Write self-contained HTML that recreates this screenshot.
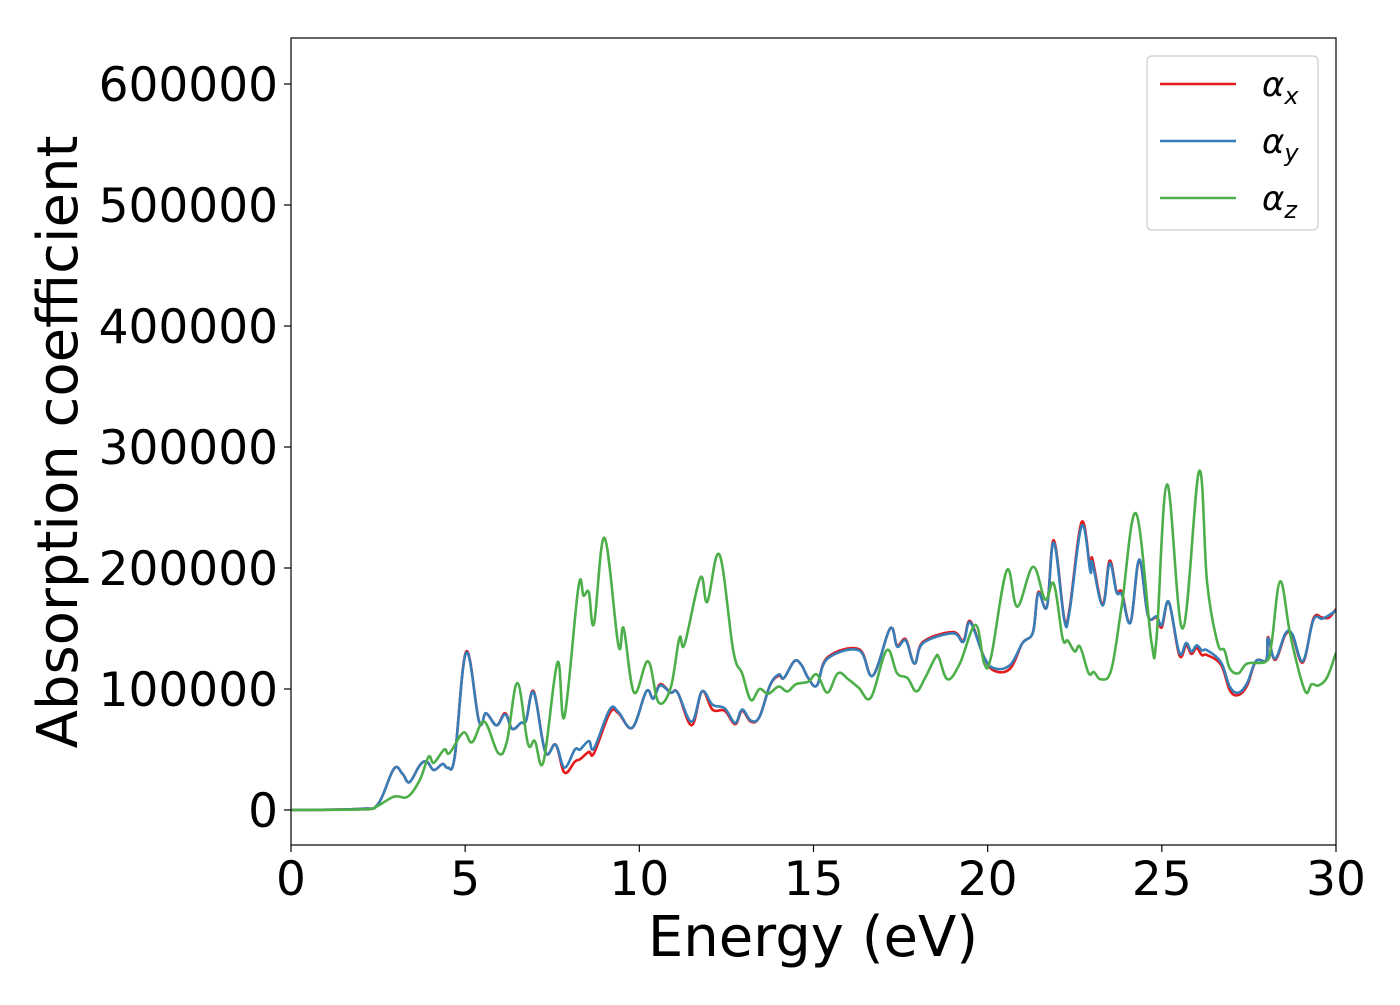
<!DOCTYPE html>
<html><head><meta charset="utf-8"><style>
html,body{margin:0;padding:0;background:#fff;}
svg text{font-family:"DejaVu Sans","Liberation Sans",sans-serif;fill:#000;}
</style></head><body>
<svg id="chart" width="1400" height="1000" viewBox="0 0 1400 1000" xmlns="http://www.w3.org/2000/svg">
<rect x="0" y="0" width="1400" height="1000" fill="#fff"/>
<g id="series"></g>
<rect x="291" y="38" width="1045" height="807" fill="none" stroke="#000" stroke-width="1.2"/>
<g id="xticks"></g>
<g id="yticks"></g>
<text x="813" y="956" font-size="56" text-anchor="middle">Energy (eV)</text>
<text transform="translate(77,442) rotate(-90)" font-size="56" text-anchor="middle">Absorption coefficient</text>
<g>
<rect x="1147" y="56" width="171" height="174" rx="5" fill="#fff" stroke="#ccc" stroke-width="1.2"/>
<line x1="1160" y1="84" x2="1236" y2="84" stroke="#e41a1c" stroke-width="2.5"/>
<text x="1262" y="96" font-size="34" font-style="italic">α<tspan font-size="24" dy="8">x</tspan></text>
<line x1="1160" y1="141" x2="1236" y2="141" stroke="#377eb8" stroke-width="2.5"/>
<text x="1262" y="153" font-size="34" font-style="italic">α<tspan font-size="24" dy="8">y</tspan></text>
<line x1="1160" y1="198" x2="1236" y2="198" stroke="#4daf4a" stroke-width="2.5"/>
<text x="1262" y="210" font-size="34" font-style="italic">α<tspan font-size="24" dy="8">z</tspan></text>
</g>
</svg>
<script>
const xTicks=[0,5,10,15,20,25,30];
const yTicks=[0,100000,200000,300000,400000,500000,600000];
const eXY=[0,2,2.5,2.95,3.2,3.4,3.7,3.9,4.1,4.35,4.5,4.7,5.03,5.4,5.6,5.9,6.15,6.35,6.6,6.75,6.97,7.3,7.6,7.85,8.15,8.3,8.55,8.7,9.15,9.4,9.8,10.2,10.4,10.6,10.9,11.1,11.5,11.8,12.1,12.45,12.75,12.95,13.2,13.45,13.75,14.0,14.15,14.45,14.65,14.85,15.1,15.4,16.3,16.7,17.2,17.4,17.65,17.9,18.15,19.0,19.3,19.5,19.9,20.2,20.65,21.0,21.3,21.45,21.7,21.9,22.2,22.35,22.7,22.95,23.0,23.3,23.5,23.7,23.85,24.1,24.35,24.6,24.85,25.0,25.2,25.5,25.7,25.85,26.0,26.15,26.3,26.7,26.95,27.2,27.45,27.7,28.0,28.05,28.25,28.55,28.75,29.05,29.35,29.6,29.8,30];
const alphaY=[0,1,5,34,30,23,37,40,33,38,35,44,130,73,80,70,79,67,72,74,97,48,54,35,50,50,57,51,83,81,68,98,92,103,97,97,73,98,87,84,72,83,74,77,103,112,109,123,120,109,103,125,132,111,150,135,140,121,138,146,139,155,126,117,120,138,147,179,168,221,157,164,235,197,205,169,204,180,178,155,207,161,160,153,172,130,138,131,136,132,132,122,102,97,105,123,124,142,125,146,145,123,157,158,161,165];
const alphaX=[0,1,5,34,30,23,37,40,33,38,35,44,131,73,80,70,80,67,72,74,98,48,54,31,40,42,48,47,80,80,68,98,92,104,97,97,70,98,83,82,71,82,73,77,103,111,109,123,120,109,103,126,133,111,150,136,141,121,139,147,140,156,126,115,117,138,147,180,168,223,158,166,238,198,208,170,206,181,180,155,206,161,159,151,172,128,136,129,134,128,128,120,99,95,103,123,124,143,124,145,144,122,158,159,159,166];
const eZ=[0,2.0,2.4,2.95,3.35,3.7,3.95,4.1,4.4,4.55,4.95,5.2,5.55,5.95,6.2,6.5,6.8,7.0,7.25,7.65,7.85,8.25,8.4,8.55,8.7,9.0,9.4,9.55,9.85,10.25,10.55,10.9,11.15,11.3,11.75,11.95,12.3,12.7,12.95,13.2,13.45,13.7,14.0,14.25,14.5,14.85,15.1,15.4,15.7,16.0,16.3,16.65,17.1,17.4,17.7,17.95,18.2,18.5,18.6,18.85,19.2,19.65,19.9,20.1,20.55,20.85,21.3,21.65,21.9,22.15,22.3,22.5,22.65,22.9,23.05,23.25,23.55,23.85,24.26,24.7,24.85,25.15,25.6,26.07,26.3,26.6,26.8,26.95,27.2,27.45,28.0,28.15,28.4,28.7,29.1,29.3,29.5,29.75,30];
const alphaZ=[0,0.5,2,11,11,25,44,39,50,47,64,56,73,47,57,105,55,57,40,122,77,184,177,180,154,225,136,150,97,123,89,101,142,137,192,172,211,131,113,91,100,96,102,98,104,106,112,97,113,108,101,93,132,113,109,98,109,126,126,108,121,153,121,127,198,168,201,174,187,142,140,131,135,113,114,108,116,169,245,139,143,269,150,280,188,138,132,117,113,121,123,138,189,143,99,104,103,110,130];
const X0=291,X1=1336,Y0=810,PXPERK=1.21;
const sx=e=>X0+(e-xTicks[0])/(xTicks[xTicks.length-1]-xTicks[0])*(X1-X0);
const sy=v=>Y0-v*PXPERK; // v in thousands
const NS="http://www.w3.org/2000/svg";
function pathFrom(xs,vs){
  const p=xs.map((e,i)=>[sx(e),sy(vs[i])]);
  let d="M"+p[0][0].toFixed(1)+","+p[0][1].toFixed(1);
  for(let i=0;i<p.length-1;i++){
    const a=p[Math.max(0,i-1)],b=p[i],c=p[i+1],q=p[Math.min(p.length-1,i+2)];
    const t=0.18;
    const c1=[b[0]+(c[0]-a[0])*t,b[1]+(c[1]-a[1])*t];
    const c2=[c[0]-(q[0]-b[0])*t,c[1]-(q[1]-b[1])*t];
    d+="C"+c1[0].toFixed(1)+","+c1[1].toFixed(1)+" "+c2[0].toFixed(1)+","+c2[1].toFixed(1)+" "+c[0].toFixed(1)+","+c[1].toFixed(1);
  }
  return d;
}
const g=document.getElementById("series");
const defs=document.createElementNS(NS,"clipPath");defs.setAttribute("id","clip");
const cr=document.createElementNS(NS,"rect");cr.setAttribute("x",X0);cr.setAttribute("y",38);cr.setAttribute("width",X1-X0);cr.setAttribute("height",807);
defs.appendChild(cr);g.appendChild(defs);g.setAttribute("clip-path","url(#clip)");
[[eXY,alphaX,"#e41a1c","line-alpha-x"],[eXY,alphaY,"#377eb8","line-alpha-y"],[eZ,alphaZ,"#4daf4a","line-alpha-z"]].forEach(s=>{
  const el=document.createElementNS(NS,"path");
  el.setAttribute("d",pathFrom(s[0],s[1]));
  el.setAttribute("fill","none");el.setAttribute("stroke",s[2]);el.setAttribute("stroke-width","2.6");el.setAttribute("stroke-linejoin","round");
  
  
  g.appendChild(el);
});
const xg=document.getElementById("xticks");
xTicks.forEach(t=>{
  const x=sx(t);
  const l=document.createElementNS(NS,"line");
  l.setAttribute("x1",x);l.setAttribute("x2",x);l.setAttribute("y1",845);l.setAttribute("y2",852);l.setAttribute("stroke","#000");l.setAttribute("stroke-width","1.2");
  
  
  xg.appendChild(l);
  const tx=document.createElementNS(NS,"text");
  tx.setAttribute("x",x);tx.setAttribute("y",895);tx.setAttribute("font-size","47");tx.setAttribute("text-anchor","middle");
  tx.textContent=t;
  
  
  xg.appendChild(tx);
});
const yg=document.getElementById("yticks");
yTicks.forEach(t=>{
  const y=sy(t/1000);
  const l=document.createElementNS(NS,"line");
  l.setAttribute("x1",284);l.setAttribute("x2",291);l.setAttribute("y1",y);l.setAttribute("y2",y);l.setAttribute("stroke","#000");l.setAttribute("stroke-width","1.2");
  
  
  yg.appendChild(l);
  const tx=document.createElementNS(NS,"text");
  tx.setAttribute("x",278);tx.setAttribute("y",y+17);tx.setAttribute("font-size","47");tx.setAttribute("text-anchor","end");
  tx.textContent=t;
  
  
  yg.appendChild(tx);
});
</script>
</body></html>
